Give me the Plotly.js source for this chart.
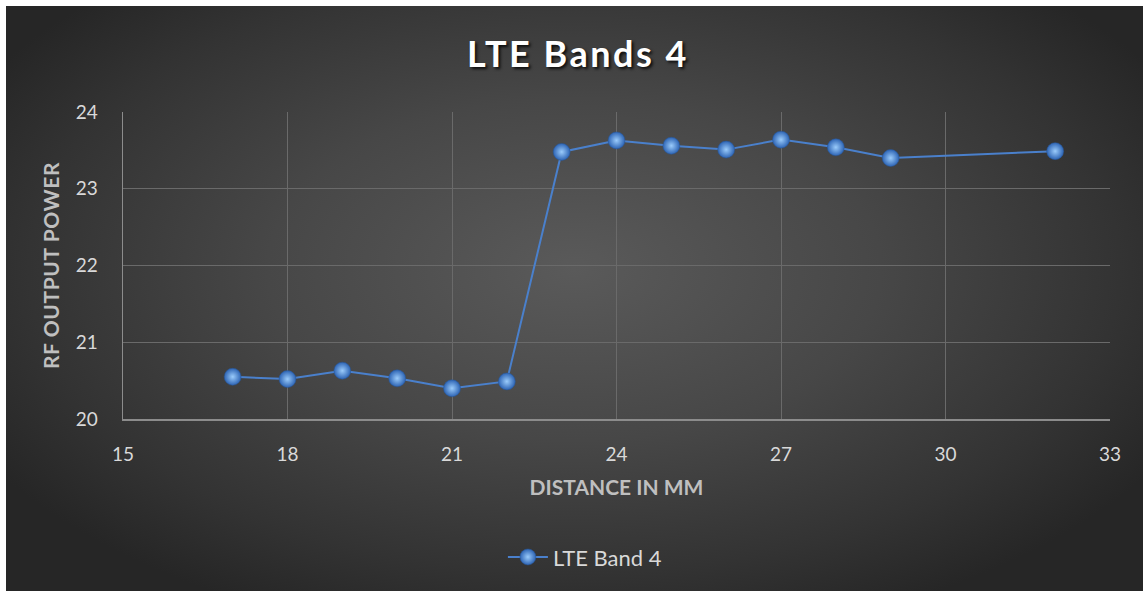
<!DOCTYPE html>
<html>
<head>
<meta charset="utf-8">
<script src="https://cdn.plot.ly/plotly-3.0.1.min.js"></script>
<style>
  html, body { margin: 0; padding: 0; background: #ffffff; width: 1144px; height: 592px; overflow: hidden; }
  #wrap {
    position: absolute; left: 6px; top: 6px; width: 1137px; height: 585px;
    background: radial-gradient(ellipse 60% 65% at 50% 45%, #5a5a5a 0%, #474747 45%, #333333 80%, #262626 100%);
  }
  #chart { width: 1137px; height: 585px; }
  .gtitle { letter-spacing: 2.5px; }
  .ytitle { letter-spacing: 0.6px; }
</style>
</head>
<body>
<div id="wrap"><div id="chart"></div></div>
<script>
const chartTitle = "LTE Bands 4";
const seriesName = "LTE Band 4";
const xTitle = "DISTANCE IN MM";
const yTitle = "RF OUTPUT POWER";
const distance = [17, 18, 19, 20, 21, 22, 23, 24, 25, 26, 27, 28, 29, 32];
const power = [20.55, 20.52, 20.63, 20.53, 20.40, 20.49, 23.48, 23.63, 23.56, 23.51, 23.64, 23.54, 23.40, 23.49];
const xTicks = [15, 18, 21, 24, 27, 30, 33];
const yTicks = [20, 21, 22, 23, 24];

const fontFam = "Lato, 'Open Sans', sans-serif";

const trace = {
  x: distance, y: power, type: 'scatter', mode: 'lines+markers', name: seriesName,
  line: { color: '#4a80cc', width: 2 },
  marker: {
    size: 17, color: '#2d64b4',
    gradient: { type: 'radial', color: '#9acbfb' },
    line: { color: '#285796', width: 0.5 }
  }
};

const layout = {
  width: 1137, height: 585,
  paper_bgcolor: 'rgba(0,0,0,0)', plot_bgcolor: 'rgba(0,0,0,0)',
  margin: { l: 117, r: 33, t: 106, b: 172 },
  font: { family: fontFam, color: '#d9d9d9', size: 18 },
  title: {
    text: chartTitle, x: 0.503, xanchor: 'center', y: 0.917, yanchor: 'middle',
    font: { family: fontFam, size: 36, color: '#ffffff', weight: 'bold',
            shadow: '2px 2px 3px rgba(0,0,0,0.8)' }
  },
  xaxis: {
    range: [15, 33], tickvals: xTicks, ticktext: xTicks.map(String),
    showgrid: true, gridcolor: '#6a6a6a', gridwidth: 1,
    showline: true, linecolor: '#8c8c8c', linewidth: 1.5,
    zeroline: false, ticks: '', ticklabelstandoff: 18,
    tickfont: { size: 19, color: '#d9d9d9' },
    title: { text: xTitle, standoff: 16, font: { size: 21, color: '#bfbfbf', weight: 'bold' } }
  },
  yaxis: {
    range: [20, 24], tickvals: yTicks, ticktext: yTicks.map(String),
    showgrid: true, gridcolor: '#6a6a6a', gridwidth: 1,
    showline: true, linecolor: '#8c8c8c', linewidth: 1.5,
    zeroline: false, ticks: '', ticklabelstandoff: 20,
    tickfont: { size: 19, color: '#d9d9d9' },
    title: { text: yTitle, standoff: 10, font: { size: 21, color: '#bfbfbf', weight: 'bold' } }
  },
  showlegend: true,
  legend: {
    orientation: 'h', x: 0.468, xanchor: 'center', y: -0.45, yanchor: 'middle',
    itemwidth: 40,
    font: { size: 22, color: '#d9d9d9' }, bgcolor: 'rgba(0,0,0,0)'
  }
};

Plotly.newPlot('chart', [trace], layout, { displayModeBar: false, staticPlot: true });
</script>
</body>
</html>
